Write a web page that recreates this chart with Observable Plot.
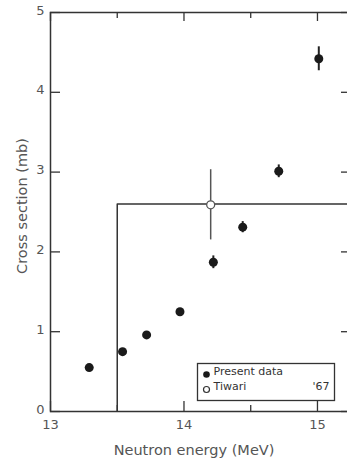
<!DOCTYPE html>
<html><head><meta charset="utf-8">
<script src="https://cdn.jsdelivr.net/npm/d3@7"></script>
<script src="https://cdn.jsdelivr.net/npm/@observablehq/plot@0.6"></script>
<style>body{margin:0;background:#fff} svg{display:block}</style>
</head><body><div id="chart"></div>
<script>
// Present data
const energy = [13.29, 13.54, 13.72, 13.97, 14.22, 14.44, 14.71, 15.01];
const sigma = [0.55, 0.75, 0.96, 1.25, 1.87, 2.31, 3.01, 4.42];
const sigmaErr = [0, 0, 0, 0, 0.08, 0.07, 0.08, 0.15];
// Tiwari '67
const tiwariEnergy = [14.20];
const tiwariSigma = [2.59];
const tiwariErr = [0.44];
// Step line
const stepEnergy = [13.5, 13.5, 15.4];
const stepSigma = [0, 2.6, 2.6];
// Ticks
const xTicks = [13, 14, 15];
const xMinor = [13.5, 14.5];
const yTicks = [0, 1, 2, 3, 4, 5];
const legendLabels = ["Present data", "Tiwari"];
const legendYear = "'67";
const xLabel = "Neutron energy (MeV)";
const yLabel = "Cross section (mb)";

const present = energy.map((e, i) => ({e, s: sigma[i], lo: sigma[i] - sigmaErr[i], hi: sigma[i] + sigmaErr[i], err: sigmaErr[i]}));
const tiwari = tiwariEnergy.map((e, i) => ({e, s: tiwariSigma[i], lo: tiwariSigma[i] - tiwariErr[i], hi: tiwariSigma[i] + tiwariErr[i]}));
const step = stepEnergy.map((e, i) => ({e, s: stepSigma[i]}));

const W = 347, H = 460, mL = 50, mT = 12, mB = 49, mR = -2;
const pw = W - mL - mR, ph = H - mT - mB;
const ink = "#333", txt = "#555";

const chart = Plot.plot({
  width: W, height: H,
  marginLeft: mL, marginRight: mR, marginTop: mT, marginBottom: mB,
  style: {fontFamily: "DejaVu Sans", background: "#fff", overflow: "hidden"},
  x: {domain: [13, 15.24]},
  y: {domain: [0, 5]},
  marks: [
    Plot.frame({stroke: ink, strokeWidth: 1.5}),
    Plot.ruleX(xTicks, {x: d => d, insetTop: ph - 10, stroke: ink, strokeWidth: 1.3}),
    Plot.ruleX(xMinor, {x: d => d, insetTop: ph - 6, stroke: ink, strokeWidth: 1.3}),
    Plot.ruleX(xTicks, {x: d => d, insetBottom: ph - 9, stroke: ink, strokeWidth: 1.3}),
    Plot.ruleX(xMinor, {x: d => d, insetBottom: ph - 6, stroke: ink, strokeWidth: 1.3}),
    Plot.ruleY(yTicks, {y: d => d, insetRight: pw - 10, stroke: ink, strokeWidth: 1.3}),
    Plot.ruleY(yTicks, {y: d => d, insetLeft: pw - 8, stroke: ink, strokeWidth: 1.3}),
    Plot.axisX(xTicks, {tickSize: 0, tickPadding: 8, fontSize: 13, fill: txt, label: null, tickFormat: d3.format("d")}),
    Plot.axisY(yTicks, {tickSize: 0, tickPadding: 6, dy: -2, fontSize: 13, fill: txt, label: null, tickFormat: d3.format("d")}),
    Plot.text([xLabel], {text: d => d, frameAnchor: "bottom", dx: -6, dy: 43, fontSize: 14.5, fill: txt}),
    Plot.text([yLabel], {text: d => d, frameAnchor: "left", textAnchor: "middle", rotate: -90, dx: -28, dy: -6, fontSize: 14.5, fill: txt}),
    Plot.line(step, {x: "e", y: "s", stroke: ink, strokeWidth: 1.5, clip: true}),
    Plot.ruleX(tiwari, {x: "e", y1: "lo", y2: "hi", stroke: "#555", strokeWidth: 1.5}),
    Plot.dot(tiwari, {x: "e", y: "s", r: 4, fill: "#fff", stroke: "#555", strokeWidth: 1.3}),
    Plot.ruleX(present.filter(d => d.err > 0), {x: "e", y1: "lo", y2: "hi", stroke: "#222", strokeWidth: 2}),
    Plot.dot(present, {x: "e", y: "s", r: 4.5, fill: "#1a1a1a", stroke: "none"}),
    // Legend
    Plot.frame({insetLeft: 147, insetRight: 15, insetTop: 351, insetBottom: 11, stroke: ink, strokeWidth: 1.3, fill: "#fff"}),
    Plot.dot([legendLabels[0]], {frameAnchor: "bottom-left", dx: 156, dy: -37, r: 3.3, fill: "#1a1a1a"}),
    Plot.dot([legendLabels[1]], {frameAnchor: "bottom-left", dx: 156, dy: -22, r: 3, fill: "#fff", stroke: "#333", strokeWidth: 1.2}),
    Plot.text([legendLabels[0]], {text: d => d, frameAnchor: "bottom-left", dx: 163, dy: -37, textAnchor: "start", fontSize: 11, fill: "#333"}),
    Plot.text([legendLabels[1]], {text: d => d, frameAnchor: "bottom-left", dx: 163, dy: -22, textAnchor: "start", fontSize: 11, fill: "#333"}),
    Plot.text([legendYear], {text: d => d, frameAnchor: "bottom-left", dx: 279, dy: -22, textAnchor: "end", fontSize: 11, fill: "#333"})
  ]
});
document.getElementById("chart").append(chart);
</script>
</body></html>
